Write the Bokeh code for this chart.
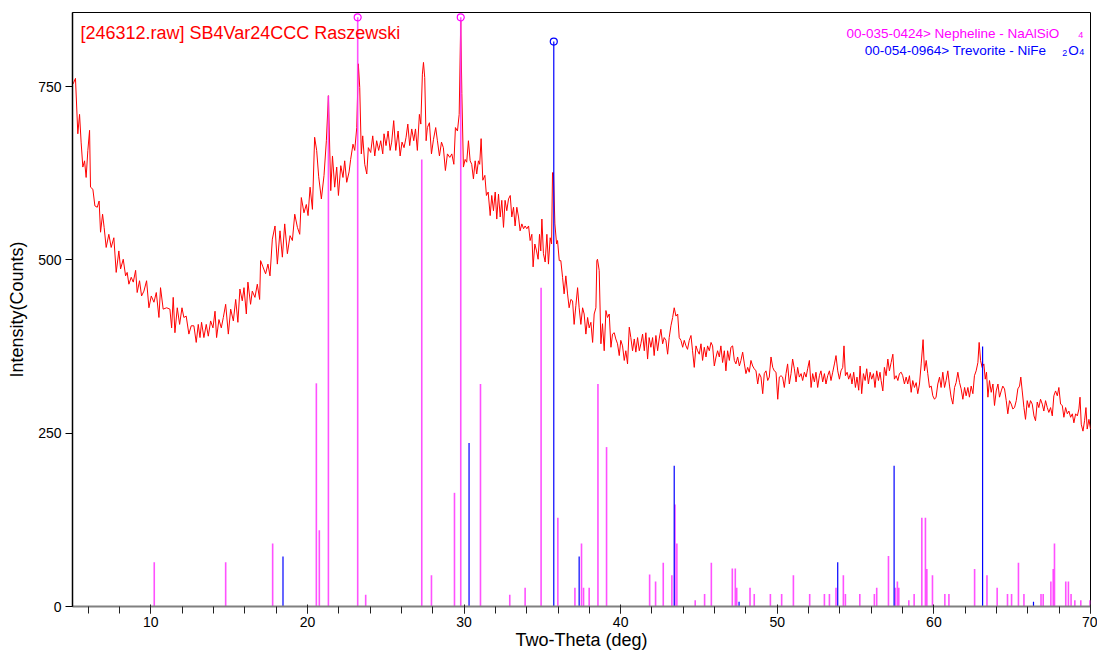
import numpy as np
from bokeh.plotting import figure
from bokeh.models import Range1d, SingleIntervalTicker, FixedTicker, Label, ColumnDataSource
from bokeh.embed import file_html
from bokeh.resources import INLINE

FONT = "Liberation Sans"

# ---------------- measured pattern (Two-Theta in deg, Intensity in counts) ----------------
two_theta_1 = [5.04, 5.19, 5.34, 5.45, 5.55, 5.66, 5.77, 5.87, 5.98, 6.09,
               6.15, 6.30, 6.43, 6.58, 6.70, 6.79, 6.92, 7.02, 7.15, 7.32,
               7.47, 7.64, 7.79, 7.96, 8.07, 8.24, 8.39, 8.49, 8.60, 8.75,
               8.88, 9.03, 9.13, 9.28, 9.41, 9.56, 9.73, 9.88, 10.03, 10.20,
               10.35, 10.52, 10.62, 10.79, 11.01, 11.22, 11.33, 11.43, 11.54, 11.69,
               11.84, 11.99, 12.11, 12.26, 12.43, 12.58, 12.75, 12.90, 13.03, 13.14,
               13.24, 13.39, 13.54, 13.67, 13.82, 13.97, 14.10, 14.20, 14.35, 14.50,
               14.63, 14.78, 14.95, 15.10, 15.27, 15.42, 15.56, 15.69, 15.84, 15.95,
               16.10, 16.20, 16.37, 16.48, 16.65, 16.80, 16.95, 17.01, 17.16, 17.33,
               17.48, 17.61, 17.76, 17.93, 18.08, 18.25, 18.40, 18.55, 18.72, 18.89,
               19.04, 19.19, 19.36, 19.51, 19.61, 19.78, 19.93, 20.04, 20.17, 20.32,
               20.46, 20.59, 20.72, 20.89, 21.06, 21.21, 21.34, 21.49, 21.60, 21.74, 21.87,
               21.98, 22.13, 22.27, 22.38, 22.51, 22.66, 22.76, 22.91, 23.02, 23.15]
counts_1 = [754, 762, 682, 710, 670, 634, 643, 619, 658, 687,
            605, 602, 578, 576, 585, 540, 566, 547, 518, 537,
            518, 532, 482, 513, 487, 501, 477, 482, 465, 475,
            468, 485, 453, 470, 448, 455, 470, 431, 448, 439,
            453, 417, 460, 429, 431, 429, 402, 446, 395, 431,
            407, 431, 417, 419, 393, 405, 405, 381, 407, 388,
            410, 388, 407, 390, 412, 402, 426, 388, 414, 402,
            417, 436, 393, 429, 412, 443, 410, 458, 441, 460,
            422, 468, 436, 455, 446, 465, 443, 499, 490, 480,
            494, 477, 530, 549, 494, 542, 504, 552, 509, 535,
            528, 566, 547, 537, 590, 568, 580, 564, 605, 573,
            677, 658, 620, 588, 622, 672, 737, 600, 650, 605, 634,
            593, 636, 619, 643, 612, 627, 645, 667, 658, 691]

two_theta_2 = [23.25, 23.34, 23.44, 23.53, 23.66, 23.79, 23.89, 24.04, 24.17, 24.30,
               24.42, 24.55, 24.68, 24.81, 24.89, 25.02, 25.15, 25.28, 25.38, 25.51,
               25.64, 25.79, 25.92, 26.04, 26.17, 26.30, 26.41, 26.53, 26.66, 26.79,
               26.90, 27.02, 27.15, 27.24, 27.34, 27.41, 27.49, 27.58, 27.66, 27.79,
               27.92, 28.05, 28.19, 28.30, 28.43, 28.56, 28.68, 28.81, 28.94, 29.09,
               29.22, 29.35, 29.45, 29.58, 29.69, 29.79, 29.86, 29.96, 30.07, 30.17, 30.28,
               30.39, 30.49, 30.60, 30.71, 30.81, 30.92, 31.00, 31.09, 31.20, 31.33,
               31.43, 31.54, 31.67, 31.77, 31.88, 31.99, 32.09, 32.20, 32.31, 32.41,
               32.52, 32.62, 32.73, 32.84, 32.95, 33.05, 33.16, 33.26, 33.37, 33.48,
               33.58, 33.69, 33.80, 33.90, 34.01, 34.12, 34.22, 34.33, 34.41, 34.52,
               34.63, 34.73, 34.82, 34.90, 34.97, 35.07, 35.18, 35.29, 35.39, 35.50,
               35.59, 35.65, 35.71, 35.80, 35.91, 35.97, 36.08, 36.18, 36.29, 36.39,
               36.50, 36.61, 36.71, 36.82, 36.93, 37.03, 37.14, 37.25, 37.35, 37.46,
               37.57, 37.67, 37.78, 37.89, 37.99, 38.10, 38.21, 38.31, 38.42, 38.48]
counts_2 = [783, 749, 653, 679, 638, 624, 662, 655, 679, 650,
            672, 658, 672, 653, 682, 665, 686, 658, 670, 701,
            658, 686, 650, 670, 662, 677, 696, 665, 689, 672,
            689, 658, 710, 696, 768, 785, 763, 672, 691, 698,
            653, 674, 691, 672, 650, 670, 662, 629, 653, 648,
            653, 638, 691, 686, 710, 845, 740, 634, 645, 641, 672,
            643, 638, 617, 643, 624, 643, 638, 675, 615, 622,
            593, 598, 564, 593, 571, 598, 559, 595, 562, 586,
            547, 586, 571, 588, 593, 562, 576, 549, 576, 562,
            542, 552, 545, 549, 545, 549, 528, 537, 490, 523,
            513, 501, 537, 513, 559, 509, 497, 537, 494, 532,
            523, 626, 626, 552, 523, 528, 499, 499, 475, 451,
            477, 451, 431, 443, 441, 407, 434, 460, 431, 407,
            431, 422, 393, 417, 402, 410, 381, 422, 431, 499]

two_theta_3 = [38.52, 38.63, 38.74, 38.84, 38.95, 39.06, 39.16, 39.27, 39.38, 39.48,
               39.59, 39.69, 39.80, 39.91, 40.01, 40.12, 40.23, 40.33, 40.44, 40.55,
               40.65, 40.76, 40.87, 40.97, 41.08, 41.19, 41.29, 41.40, 41.51, 41.61,
               41.72, 41.82, 41.93, 42.04, 42.14, 42.25, 42.36, 42.46, 42.57, 42.68,
               42.78, 42.89, 43.00, 43.10, 43.21, 43.32, 43.42, 43.53, 43.64, 43.74,
               43.85, 43.96, 44.06, 44.17, 44.27, 44.38, 44.49, 44.59, 44.70, 44.81,
               44.91, 45.02, 45.13, 45.23, 45.34, 45.45, 45.55, 45.66, 45.77, 45.87,
               45.98, 46.09, 46.19, 46.30, 46.40, 46.51, 46.62, 46.72, 46.83, 46.94,
               47.04, 47.15, 47.26, 47.36, 47.47, 47.58, 47.68, 47.79, 47.90, 48.00,
               48.11, 48.21, 48.32, 48.43, 48.53, 48.64, 48.75, 48.85, 48.96, 49.07,
               49.17, 49.28, 49.39, 49.49, 49.60, 49.71, 49.81, 49.92, 50.03, 50.13,
               50.24, 50.34, 50.45, 50.56, 50.66, 50.77, 50.88, 50.98, 51.09, 51.20,
               51.30, 51.41, 51.52, 51.62, 51.73, 51.84, 51.94, 52.05, 52.16, 52.26,
               52.37, 52.47, 52.58, 52.69, 52.79, 52.90, 53.01, 53.11, 53.22, 53.33,
               53.43, 53.54, 53.65, 53.75, 53.86, 53.97, 54.07, 54.18, 54.26, 54.35,
               54.46, 54.56, 54.67, 54.77, 54.88, 54.99, 55.09, 55.20, 55.29, 55.39,
               55.50, 55.61, 55.71, 55.82, 55.93, 56.03, 56.14, 56.24, 56.35, 56.46,
               56.56]
counts_3 = [501, 485, 379, 408, 369, 427, 417, 422, 374, 393,
            395, 386, 379, 362, 384, 376, 355, 369, 350, 403,
            388, 369, 386, 367, 388, 369, 379, 393, 369, 395,
            357, 388, 374, 388, 362, 391, 369, 386, 400, 379,
            388, 384, 364, 388, 405, 417, 431, 419, 422, 388,
            384, 374, 384, 376, 371, 384, 391, 369, 345, 376,
            369, 364, 379, 355, 374, 360, 376, 369, 381, 376,
            347, 360, 369, 360, 376, 352, 369, 340, 369, 355,
            374, 376, 355, 350, 360, 347, 355, 367, 350, 336,
            345, 338, 355, 347, 343, 340, 321, 336, 331, 307,
            336, 340, 326, 331, 360, 345, 340, 338, 299, 331,
            333, 331, 316, 336, 350, 321, 336, 357, 343, 324,
            345, 331, 336, 326, 338, 331, 343, 355, 316, 336,
            324, 338, 316, 333, 340, 324, 336, 321, 333, 340,
            326, 338, 350, 362, 340, 328, 340, 345, 376, 333,
            338, 328, 336, 321, 338, 316, 331, 312, 347, 307,
            336, 326, 343, 321, 338, 328, 336, 316, 340, 326,
            338]

two_theta_4 = [56.63, 56.74, 56.84, 56.95, 57.06, 57.16, 57.27, 57.38, 57.48, 57.59,
               57.70, 57.80, 57.91, 58.01, 58.12, 58.23, 58.33, 58.44, 58.55, 58.65,
               58.76, 58.87, 58.97, 59.08, 59.19, 59.31, 59.40, 59.51, 59.61, 59.72,
               59.83, 59.93, 60.04, 60.14, 60.25, 60.36, 60.46, 60.57, 60.68, 60.78,
               60.89, 61.00, 61.10, 61.21, 61.32, 61.42, 61.53, 61.64, 61.74, 61.85,
               61.96, 62.06, 62.17, 62.27, 62.38, 62.49, 62.59, 62.70, 62.81, 62.89,
               62.98, 63.08, 63.19, 63.28, 63.36, 63.45, 63.55, 63.66, 63.77, 63.87,
               63.98, 64.09, 64.19, 64.30, 64.40, 64.51, 64.62, 64.72, 64.83, 64.94,
               65.04, 65.15, 65.26, 65.36, 65.47, 65.55, 65.64, 65.75, 65.85, 65.96,
               66.07, 66.17, 66.28, 66.39, 66.49, 66.60, 66.70, 66.81, 66.92, 67.02,
               67.13, 67.24, 67.34, 67.45, 67.56, 67.66, 67.77, 67.88, 67.98, 68.09,
               68.20, 68.30, 68.41, 68.52, 68.62, 68.73, 68.84, 68.94, 69.05, 69.16,
               69.26, 69.33, 69.41, 69.52, 69.62, 69.71, 69.79, 69.90, 70.00]
counts_4 = [326, 311, 345, 333, 357, 340, 352, 364, 328, 333,
            326, 336, 338, 333, 321, 331, 321, 333, 309, 326,
            316, 323, 307, 321, 350, 385, 340, 355, 336, 316,
            318, 304, 299, 302, 321, 331, 316, 338, 316, 326,
            340, 318, 302, 292, 316, 323, 338, 323, 314, 299,
            316, 304, 316, 302, 318, 307, 333, 340, 352, 381,
            355, 345, 350, 328, 338, 302, 326, 309, 321, 290,
            311, 321, 302, 311, 318, 314, 297, 278, 297, 292,
            285, 287, 297, 314, 318, 331, 311, 287, 270, 297,
            287, 297, 292, 275, 268, 295, 287, 299, 292, 282,
            297, 287, 280, 287, 275, 304, 311, 304, 316, 292,
            290, 273, 287, 278, 282, 273, 278, 265, 278, 275,
            285, 302, 263, 253, 268, 287, 256, 270, 256]

# ---------------- reference patterns (stick positions / heights) ----------------
neph_pos = [10.22, 14.78, 17.78, 20.57, 20.76, 21.34, 23.21, 23.72, 27.30, 27.92,
            29.39, 29.79, 31.05, 32.92, 33.90, 34.92, 35.99, 37.08, 37.50, 37.63,
            37.99, 38.55, 39.10, 41.85, 42.23, 42.72, 43.27, 43.47, 43.59, 44.76,
            45.36, 45.79, 47.13, 47.32, 47.41, 48.26, 48.53, 49.56, 50.28, 51.03,
            52.07, 53.01, 53.33, 53.75, 54.22, 54.35, 55.27, 56.20, 56.35, 57.10,
            57.54, 57.67, 57.76, 58.40, 58.74, 59.23, 59.46, 59.55, 59.91, 60.70,
            60.96, 62.60, 63.39, 64.04, 64.70, 64.96, 65.40, 65.75, 66.84, 66.98,
            67.47, 67.62, 67.70, 68.42, 68.59, 68.76, 69.00, 69.38, 69.97]
neph_int = [64, 64, 91, 322, 110, 737, 850, 17, 645, 45,
            164, 850, 321, 17, 27, 460, 128, 27, 91, 27,
            27, 321, 230, 46, 36, 63, 45, 147, 91, 9,
            18, 63, 55, 55, 27, 27, 18, 18, 18, 45,
            18, 18, 18, 27, 45, 18, 18, 18, 27, 73,
            27, 36, 27, 9, 18, 128, 128, 54, 45, 18,
            18, 54, 45, 27, 18, 18, 63, 18, 18, 18,
            36, 54, 91, 36, 36, 18, 9, 9, 9]

trev_pos = [18.44, 30.32, 35.73, 37.35, 43.42, 47.56, 53.86, 57.46, 63.11, 66.36]
trev_int = [72, 236, 815, 72, 203, 7, 64, 203, 375, 7]

y_ticks = [0, 250, 500, 750]

title_text = "[246312.raw] SB4Var24CCC Raszewski"
neph_label = "00-035-0424> Nepheline - NaAlSiO"
trev_label = "00-054-0964> Trevorite - NiFe"

two_theta = two_theta_1 + two_theta_2 + two_theta_3 + two_theta_4
counts = counts_1 + counts_2 + counts_3 + counts_4
n = min(len(two_theta), len(counts))
two_theta, counts = two_theta[:n], counts[:n]

p = figure(width=1097, height=652, output_backend="svg", toolbar_location=None,
           x_range=Range1d(5, 70), y_range=Range1d(0, 857),
           min_border_left=72, min_border_right=7, min_border_top=12, min_border_bottom=46)
p.xgrid.visible = False
p.ygrid.visible = False
p.outline_line_color = "black"
p.outline_line_width = 1
p.background_fill_color = "white"
p.border_fill_color = "white"

# measured trace
p.line(two_theta, counts, line_color="#FF0000", line_width=1)

# stick patterns
neph_src = ColumnDataSource(dict(x=neph_pos, h=neph_int))
p.segment(x0="x", y0=0, x1="x", y1="h", source=neph_src,
          line_color="#FF33FF", line_width=1.6, line_alpha=0.85)
trev_src = ColumnDataSource(dict(x=trev_pos, h=trev_int))
p.segment(x0="x", y0=0, x1="x", y1="h", source=trev_src,
          line_color="#0000FF", line_width=1.2)

# markers on strongest lines
nmax = max(neph_int)
nx = [x for x, h in zip(neph_pos, neph_int) if h == nmax]
p.scatter(nx, [nmax] * len(nx), marker="circle", size=7, fill_alpha=0,
          line_color="#FF00FF", line_width=1.2)
tmax = max(trev_int)
tx = [x for x, h in zip(trev_pos, trev_int) if h == tmax]
p.scatter(tx, [tmax] * len(tx), marker="circle", size=7, fill_alpha=0,
          line_color="#0000FF", line_width=1.2)

# axes
xa = p.xaxis[0]
xa.ticker = SingleIntervalTicker(interval=10, num_minor_ticks=5)
xa.axis_line_color = "#808080"
xa.axis_line_width = 2
xa.major_tick_line_color = "#222222"
xa.major_tick_out = 7
xa.major_tick_in = 2
xa.minor_tick_line_color = "#222222"
xa.minor_tick_out = 7
xa.minor_tick_in = 0
xa.major_label_text_font = FONT
xa.major_label_text_font_size = "14px"
xa.major_label_text_color = "black"
xa.major_label_standoff = 3
xa.axis_label = "Two-Theta (deg)"
xa.axis_label_text_font = FONT
xa.axis_label_text_font_size = "18px"
xa.axis_label_text_font_style = "normal"
xa.axis_label_text_color = "black"
xa.axis_label_standoff = 0

ya = p.yaxis[0]
ya.ticker = FixedTicker(ticks=y_ticks)
ya.minor_tick_line_color = None
ya.axis_line_color = "black"
ya.axis_line_width = 1.5
ya.major_tick_line_color = "black"
ya.major_tick_out = 7
ya.major_tick_in = 0
ya.major_label_text_font = FONT
ya.major_label_text_font_size = "14px"
ya.major_label_text_color = "black"
ya.major_label_standoff = 4
ya.axis_label = "Intensity(Counts)"
ya.axis_label_text_font = FONT
ya.axis_label_text_font_size = "18px"
ya.axis_label_text_font_style = "normal"
ya.axis_label_text_color = "black"
ya.axis_label_standoff = 8

# in-plot title
p.add_layout(Label(x=5.51, y=828, text=title_text, text_align="left",
                   text_baseline="alphabetic", text_font=FONT, text_font_size="18px",
                   text_color="#FF0000"))

# pattern legend
p.add_layout(Label(x=68.0, y=826, text=neph_label, text_align="right",
                   text_baseline="alphabetic", text_font=FONT, text_font_size="13.5px",
                   text_color="#FF00FF"))
p.add_layout(Label(x=69.22, y=824, text="4", text_align="left",
                   text_baseline="alphabetic", text_font=FONT, text_font_size="9px",
                   text_color="#FF00FF"))
p.add_layout(Label(x=67.17, y=802, text=trev_label, text_align="right",
                   text_baseline="alphabetic", text_font=FONT, text_font_size="13.5px",
                   text_color="#0000FF"))
p.add_layout(Label(x=68.19, y=799, text="2", text_align="left",
                   text_baseline="alphabetic", text_font=FONT, text_font_size="9px",
                   text_color="#0000FF"))
p.add_layout(Label(x=68.58, y=802, text="O", text_align="left",
                   text_baseline="alphabetic", text_font=FONT, text_font_size="13.5px",
                   text_color="#0000FF"))
p.add_layout(Label(x=69.28, y=800, text="4", text_align="left",
                   text_baseline="alphabetic", text_font=FONT, text_font_size="9px",
                   text_color="#0000FF"))

open("out.html", "w").write(file_html(p, INLINE))
